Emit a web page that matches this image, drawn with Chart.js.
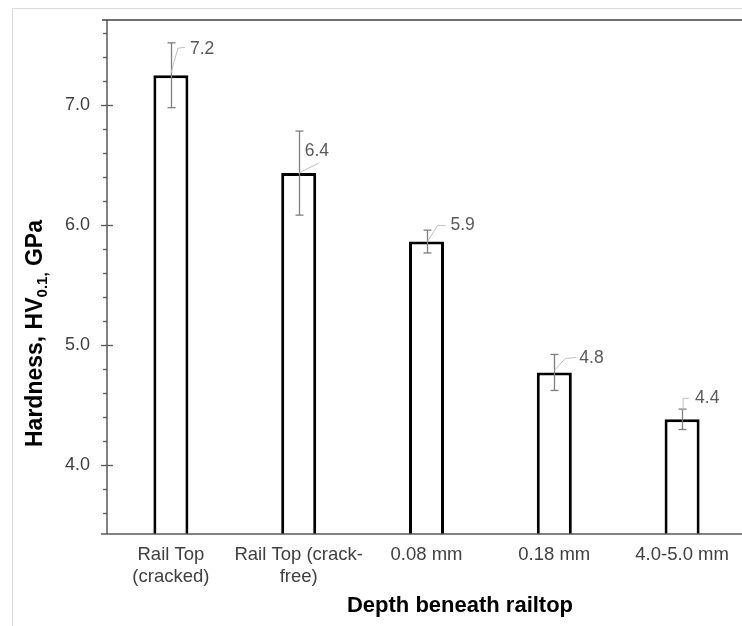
<!DOCTYPE html>
<html>
<head>
<meta charset="utf-8">
<script src="https://cdn.jsdelivr.net/npm/chart.js@4/dist/chart.umd.min.js"></script>
<style>
  html, body { margin: 0; padding: 0; background: #fff; overflow: hidden; }
  #frame { position: absolute; left: 12px; top: 8px; width: 900px; height: 800px; border: 1px solid #d9d9d9; }
  #usageChart { position: absolute; left: 0; top: 0; }
</style>
</head>
<body>
<div id="frame"></div>
<canvas id="usageChart" width="746" height="626"></canvas>
<script>
// chart data
const categories = [["Rail Top", "(cracked)"], ["Rail Top (crack-", "free)"], "0.08 mm", "0.18 mm", "4.0-5.0 mm"];
const hardness = [7.245, 6.43, 5.86, 4.77, 4.38];
const errors = [0.27, 0.35, 0.095, 0.15, 0.085];
const majorTicks = [4.0, 5.0, 6.0, 7.0];
const minorTicks = [3.6, 3.8, 4.0, 4.2, 4.4, 4.6, 4.8, 5.0, 5.2, 5.4, 5.6, 5.8, 6.0, 6.2, 6.4, 6.6, 6.8, 7.0, 7.2, 7.4, 7.6];

const FONT = "'Liberation Sans', Arial, sans-serif";

// where each value label sits relative to the top of its bar (leader points, text pos)
const labelLayout = [
  { leader: [[0, -2], [7, -27], [14, -28]], text: [19, -26] },
  { leader: [[0, 0], [20, -10]], text: [6, -22] },
  { leader: [[1, 0], [11, -16], [19, -16]], text: [24, -16] },
  { leader: [[0, -2], [11, -14], [22, -15]], text: [25, -14] },
  { leader: [[1, -9], [1, -21], [7, -21]], text: [13, -21] }
];

const extras = {
  id: "extras",
  afterDatasetsDraw(chart) {
    const { ctx, chartArea: a, scales: { x, y } } = chart;
    const line = (x1, y1, x2, y2) => { ctx.beginPath(); ctx.moveTo(x1, y1); ctx.lineTo(x2, y2); ctx.stroke(); };
    ctx.save();

    // axes + frame top
    ctx.strokeStyle = "#595959";
    ctx.lineWidth = 1.5;
    line(a.left - 6, a.bottom, a.right, a.bottom);
    line(a.left, a.top, a.left, a.bottom);
    ctx.strokeStyle = "#404040";
    line(a.left - 5, a.top, a.right, a.top);

    // y ticks
    ctx.strokeStyle = "#595959";
    ctx.lineWidth = 1.3;
    minorTicks.forEach(v => {
      const py = Math.round(y.getPixelForValue(v)) + 0.5;
      if (majorTicks.includes(v)) line(a.left - 6, py, a.left + 6, py);
      else line(a.left - 4, py, a.left, py);
    });

    // error bars
    ctx.strokeStyle = "#7f7f7f";
    ctx.lineWidth = 1.3;
    hardness.forEach((v, i) => {
      const px = Math.round(x.getPixelForValue(i)) + 0.5;
      const hi = y.getPixelForValue(v + errors[i]);
      const lo = y.getPixelForValue(v - errors[i]);
      line(px, hi, px, lo);
      line(px - 4, hi, px + 4, hi);
      line(px - 4, lo, px + 4, lo);
    });

    // value labels with leader lines
    ctx.font = "17.5px " + FONT;
    ctx.textBaseline = "middle";
    ctx.textAlign = "left";
    hardness.forEach((v, i) => {
      const px = x.getPixelForValue(i);
      const py = y.getPixelForValue(v);
      const L = labelLayout[i];
      ctx.strokeStyle = "#bfbfbf";
      ctx.lineWidth = 1;
      ctx.beginPath();
      L.leader.forEach(([dx, dy], k) => k ? ctx.lineTo(px + dx, py + dy) : ctx.moveTo(px + dx, py + dy));
      ctx.stroke();
      ctx.fillStyle = "#595959";
      ctx.fillText(v.toFixed(1), px + L.text[0], py + L.text[1]);
    });

    // axis titles
    ctx.fillStyle = "#000";
    ctx.textBaseline = "alphabetic";
    ctx.textAlign = "center";
    ctx.font = "bold 22px " + FONT;
    ctx.fillText("Depth beneath railtop", 460, 612);

    ctx.translate(42, 447);
    ctx.rotate(-Math.PI / 2);
    ctx.textAlign = "left";
    ctx.font = "bold 23px " + FONT;
    const t1 = "Hardness, HV";
    ctx.fillText(t1, 0, 0);
    let w = ctx.measureText(t1).width;
    ctx.font = "bold 15px " + FONT;
    ctx.fillText("0.1,", w, 5);
    w += ctx.measureText("0.1,").width;
    ctx.font = "bold 23px " + FONT;
    ctx.fillText(" GPa", w, 0);
    ctx.restore();
  }
};

const ctx = document.getElementById("usageChart").getContext("2d");
new Chart(ctx, {
  type: "bar",
  data: {
    labels: categories,
    datasets: [{
      data: hardness,
      backgroundColor: "#ffffff",
      borderColor: "#000000",
      borderWidth: 3,
      borderSkipped: false,
      barPercentage: 0.274,
      categoryPercentage: 1
    }]
  },
  options: {
    responsive: false,
    animation: false,
    devicePixelRatio: 1,
    layout: { padding: { top: 20, left: 0, right: 0, bottom: 0 } },
    plugins: { legend: { display: false }, tooltip: { enabled: false } },
    scales: {
      x: {
        grid: { display: false, drawTicks: false },
        border: { display: false },
        ticks: { color: "#404040", font: { family: FONT, size: 18.5 }, padding: 10, maxRotation: 0, autoSkip: false },
        afterFit(scale) { scale.height = 92; scale.paddingLeft = 0; scale.paddingRight = 0; }
      },
      y: {
        min: 3.425,
        max: 7.705,
        grid: { display: false, drawTicks: false },
        border: { display: false },
        afterBuildTicks(scale) { scale.ticks = minorTicks.map(v => ({ value: v })); },
        ticks: {
          autoSkip: false,
          color: "#404040",
          font: { family: FONT, size: 18 },
          padding: 17,
          callback: v => majorTicks.includes(v) ? v.toFixed(1) : ""
        },
        afterFit(scale) { scale.width = 107; scale.paddingTop = 0; scale.paddingBottom = 0; }
      }
    }
  },
  plugins: [extras]
});
</script>
</body>
</html>
